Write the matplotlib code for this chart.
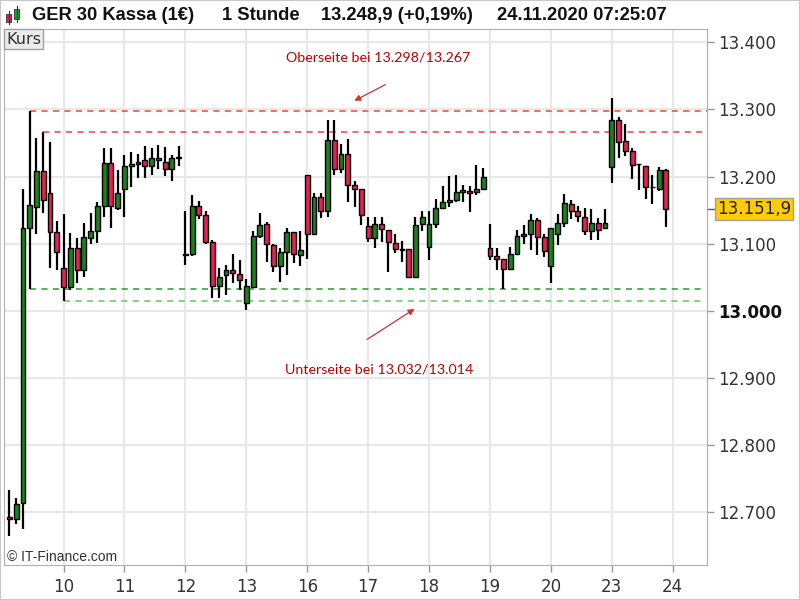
import matplotlib
matplotlib.use("Agg")
import matplotlib.pyplot as plt
from matplotlib.patches import Rectangle
import matplotlib.transforms as mtransforms

plt.rcParams['font.family'] = 'DejaVu Sans'

# hourly candles GER 30 (9 bars per trading day)
opens = [12692, 12690, 12714, 13124, 13155, 13208, 13175, 13118, 13063, 13035,
         13094, 13061, 13109, 13119, 13156, 13220, 13153, 13182, 13216, 13218,
         13224, 13216, 13227, 13222, 13212, 13229, 13085, 13084, 13156, 13142,
         13103, 13037, 13053, 13060, 13055, 13011, 13036, 13112, 13130, 13098,
         13066, 13088, 13118, 13083, 13202, 13115, 13170, 13148, 13254, 13212,
         13233, 13188, 13181, 13126, 13108, 13130, 13121, 13101, 13092, 13092,
         13051, 13129, 13095, 13130, 13153, 13162, 13165, 13177, 13178, 13177,
         13181, 13094, 13081, 13077, 13062, 13084, 13112, 13115, 13135, 13110,
         13066, 13115, 13131, 13159, 13148, 13140, 13119, 13131, 13123, 13215,
         13284, 13253, 13238, 13218, 13216, 13184, 13182, 13210]
highs = [12733, 12721, 13181, 13298, 13258, 13267, 13251, 13134, 13144, 13116,
         13108, 13131, 13145, 13162, 13243, 13243, 13210, 13232, 13236, 13233,
         13246, 13243, 13247, 13244, 13232, 13245, 13148, 13172, 13164, 13148,
         13105, 13063, 13068, 13084, 13076, 13048, 13119, 13146, 13133, 13100,
         13093, 13124, 13118, 13119, 13202, 13175, 13175, 13284, 13284, 13248,
         13256, 13193, 13181, 13140, 13140, 13139, 13121, 13115, 13104, 13092,
         13140, 13149, 13148, 13166, 13186, 13201, 13203, 13187, 13186, 13217,
         13213, 13130, 13094, 13077, 13095, 13120, 13128, 13144, 13138, 13115,
         13123, 13144, 13174, 13165, 13156, 13153, 13152, 13138, 13151, 13317,
         13289, 13279, 13243, 13218, 13216, 13203, 13215, 13211]
lows = [12664, 12682, 12674, 13032, 13115, 13145, 13063, 13061, 13014, 13031,
        13041, 13051, 13100, 13101, 13140, 13124, 13150, 13140, 13185, 13198,
        13198, 13202, 13211, 13201, 13193, 13216, 13068, 13082, 13137, 13100,
        13019, 13019, 13024, 13041, 13031, 13001, 13035, 13108, 13072, 13058,
        13043, 13054, 13071, 13066, 13077, 13114, 13138, 13139, 13202, 13206,
        13162, 13155, 13128, 13103, 13094, 13103, 13058, 13086, 13073, 13051,
        13051, 13119, 13075, 13123, 13153, 13154, 13162, 13162, 13147, 13173,
        13181, 13076, 13061, 13033, 13062, 13084, 13100, 13090, 13083, 13080,
        13042, 13098, 13125, 13137, 13132, 13113, 13105, 13105, 13123, 13191,
        13228, 13231, 13196, 13180, 13166, 13159, 13178, 13125]
closes = [12689, 12712, 13124, 13157, 13208, 13165, 13118, 13087, 13036, 13094,
          13061, 13110, 13119, 13156, 13220, 13156, 13175, 13216, 13218, 13222,
          13216, 13227, 13224, 13212, 13228, 13227, 13083, 13156, 13143, 13102,
          13037, 13050, 13061, 13057, 13046, 13037, 13112, 13128, 13100, 13066,
          13088, 13118, 13084, 13090, 13115, 13170, 13148, 13254, 13212, 13233,
          13188, 13181, 13143, 13108, 13130, 13122, 13102, 13092, 13091, 13051,
          13128, 13140, 13129, 13153, 13162, 13165, 13177, 13180, 13175, 13181,
          13200, 13081, 13077, 13062, 13084, 13112, 13115, 13135, 13110, 13089,
          13123, 13131, 13161, 13148, 13141, 13119, 13131, 13121, 13131, 13284,
          13252, 13238, 13217, 13218, 13184, 13184, 13210, 13152]

day_labels = ['10', '11', '12', '13', '16', '17', '18', '19', '20', '23', '24']
day_first_bar = [8, 17, 26, 35, 44, 53, 62, 71, 80, 89, 98]
price_ticks = [12700, 12800, 12900, 13000, 13100, 13200, 13300, 13400]

resistance = [13298, 13267]
resistance_start = [3, 5]
support = [13032, 13014]
support_start = [3, 8]
last_price = 13151.9

green = '#1F7F1F'
red = '#E62050'

fig = plt.figure(figsize=(8, 6), dpi=100)
ax = fig.add_axes([0.005, 0.0583, 0.879, 0.8934])

# candles
x = list(range(len(opens)))
colors = [green if c >= o else red for o, c in zip(opens, closes)]
bottoms = [min(o, c) for o, c in zip(opens, closes)]
heights = [max(abs(c - o), 1.2) for o, c in zip(opens, closes)]
ax.vlines(x, lows, highs, color='black', lw=1.6, zorder=3)
ax.bar(x, heights, bottom=bottoms, width=0.72, color=colors,
       edgecolor='black', linewidth=1, zorder=4)

# support / resistance lines
for lvl, st, col in zip(resistance, resistance_start, ['#FF3B3B', '#FF3B3B']):
    ax.plot([st, 103], [lvl, lvl], color=col, lw=1.1, ls=(0, (4, 3.5)), zorder=2)
for lvl, st, col in zip(support, support_start, ['#22A022', '#6CBF6C']):
    ax.plot([st, 102.2], [lvl, lvl], color=col, lw=1.1, ls=(0, (4, 3.5)), zorder=2)

ann_font = ['Lato', 'DejaVu Sans']
ax.text(54.5, 13378, 'Oberseite bei 13.298/13.267', color='#C00000', fontsize=10.3,
        family=ann_font, ha='center', va='center')
ax.annotate('', xy=(50.6, 13311), xytext=(55.9, 13339),
            arrowprops=dict(arrowstyle='-|>', color='#D03030', lw=0.9, mutation_scale=9))
ax.text(54.7, 12913, 'Unterseite bei 13.032/13.014', color='#C00000', fontsize=10.3,
        family=ann_font, ha='center', va='center')
ax.annotate('', xy=(60.2, 13005), xytext=(52.5, 12955),
            arrowprops=dict(arrowstyle='-|>', color='#D03030', lw=0.9, mutation_scale=9))

# axes styling
ax.set_xlim(-0.8, 103.1)
ax.set_ylim(12621, 13420)
ax.set_xticks(day_first_bar)
ax.set_xticklabels(day_labels)
ax.set_yticks(price_ticks)
ax.set_yticklabels([f'{v:,}'.replace(',', '.') for v in price_ticks])
ax.yaxis.tick_right()
ax.tick_params(axis='both', colors='#999999', labelcolor='#333333',
               labelsize=12, length=5, width=1)
ax.tick_params(axis='y', pad=3)
ax.tick_params(axis='x', pad=4)
for lab in ax.get_yticklabels():
    if lab.get_text() == '13.000':
        lab.set_fontweight('bold')
        lab.set_color('#111111')
ax.grid(True, color='#E8E8E8', lw=1.5, zorder=0)
ax.set_axisbelow(True)
for sp in ax.spines.values():
    sp.set_color('#B0B0B0')

# current price label
trans = mtransforms.blended_transform_factory(ax.transAxes, ax.transData)
ax.plot([1.0, 1.012], [last_price, last_price], color='#555555', lw=1,
        transform=trans, clip_on=False)
ax.text(1.014, last_price, '13.151,9', transform=trans, fontsize=12, color='#222222',
        va='center', ha='left',
        bbox=dict(boxstyle='square,pad=0.12', fc='#FFCC00', ec='#A0A0A0', lw=1))


def px(xp, yp):
    return xp / 800, 1 - yp / 600


# header
hy = px(0, 16)[1]
header = [(32, 'GER 30 Kassa (1€)'), (222, '1 Stunde'),
          (321, '13.248,9 (+0,19%)'), (497, '24.11.2020 07:25:07')]
for xp, txt in header:
    fig.text(xp / 800, hy, txt, fontsize=13.2, fontweight='bold', color='#111111',
             family=['Liberation Sans', 'DejaVu Sans'], ha='left', va='center')

# small candle icon in header
for (x0, y0, w, h, c, wy0, wy1) in [(6, 14, 5, 8, '#E62050', 11, 24), (14, 9, 5, 10, '#1F9F1F', 6, 22)]:
    fx, fy = px(x0 + w / 2, wy1)
    fx2, fy2 = px(x0 + w / 2, wy0)
    fig.add_artist(plt.Line2D([fx, fx2], [fy, fy2], color='#333333', lw=0.8,
                              transform=fig.transFigure))
    rx, ry = px(x0, y0 + h)
    fig.add_artist(Rectangle((rx, ry), w / 800, h / 600, transform=fig.transFigure,
                             fc=c, ec='#333333', lw=0.6))

fig.text(6 / 800, px(0, 39)[1], 'Kurs', fontsize=11.5, color='#333333', ha='left', va='center',
         bbox=dict(boxstyle='square,pad=0.15', fc='#EBEBEB', ec='#A0A0A0', lw=1))
fig.text(7 / 800, px(0, 557)[1], '© IT-Finance.com', fontsize=10, color='#333333',
         family=['Liberation Sans', 'DejaVu Sans'], ha='left', va='center')

fig.add_artist(Rectangle((0, 0), 1, 1, transform=fig.transFigure, fill=False,
                         ec='#C8C8C8', lw=1.5))

fig.savefig('out.png', dpi=100)
